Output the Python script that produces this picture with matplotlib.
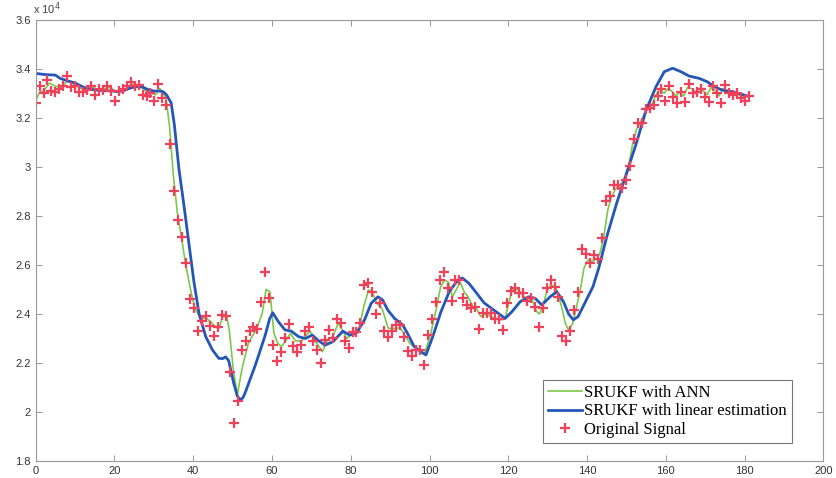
import numpy as np
import matplotlib
matplotlib.use('Agg')
import matplotlib.pyplot as plt

# Original signal (one sample per step, values in units of 1e4)
signal = [3.26, 3.33, 3.30, 3.355, 3.31, 3.305, 3.32, 3.33, 3.37, 3.325,
          3.33, 3.305, 3.305, 3.315, 3.33, 3.295, 3.32, 3.315, 3.33, 3.31,
          3.27, 3.31, 3.32, 3.33, 3.345, 3.33, 3.335, 3.295, 3.29, 3.30,
          3.27, 3.34, 3.28, 3.255, 3.095, 2.90, 2.785, 2.715, 2.61, 2.46,
          2.425, 2.33, 2.37, 2.39, 2.35, 2.31, 2.345, 2.395, 2.39, 2.165,
          1.955, 2.045, 2.255, 2.29, 2.33, 2.345, 2.34, 2.45, 2.57, 2.465,
          2.275, 2.21, 2.245, 2.30, 2.36, 2.27, 2.245, 2.275, 2.33, 2.345,
          2.29, 2.255, 2.20, 2.295, 2.335, 2.30, 2.38, 2.365, 2.29, 2.26,
          2.325, 2.325, 2.365, 2.52, 2.525, 2.49, 2.40, 2.445, 2.33, 2.305,
          2.33, 2.355, 2.355, 2.305, 2.25, 2.23, 2.255, 2.255, 2.19, 2.315,
          2.38, 2.45, 2.54, 2.57, 2.505, 2.455, 2.54, 2.54, 2.465, 2.435,
          2.425, 2.43, 2.34, 2.405, 2.405, 2.405, 2.38, 2.38, 2.335, 2.445,
          2.495, 2.505, 2.485, 2.485, 2.455, 2.465, 2.43, 2.345, 2.425, 2.505,
          2.54, 2.51, 2.47, 2.31, 2.29, 2.33, 2.415, 2.49, 2.665, 2.645,
          2.61, 2.64, 2.625, 2.71, 2.86, 2.88, 2.925, 2.925, 2.915, 2.945,
          3.005, 3.115, 3.18, 3.18, 3.235, 3.24, 3.255, 3.29, 3.32, 3.27,
          3.33, 3.285, 3.26, 3.305, 3.265, 3.34, 3.30, 3.305, 3.32, 3.285,
          3.265, 3.33, 3.30, 3.26, 3.335, 3.30, 3.295, 3.30, 3.28, 3.27,
          3.29]
sig_x = np.linspace(0, 181, len(signal))

# SRUKF with ANN (green)
ann_x = [0, 1, 2, 3.5, 5, 6.5, 8, 9, 10, 11.5, 13, 14.5, 16, 17.5, 19, 20.5,
         22, 23.5, 25, 26.5, 28, 29.5, 30.5, 31.5, 32.5, 33.2, 34, 35, 36, 37,
         38, 39.5, 40.5, 41.5, 42.5, 43.5, 44.5, 45.5, 46.5, 47.5, 48.5, 49.2,
         50.2, 51.2, 52.5, 54, 55, 56, 57.5, 58.5, 59.5, 60.5, 61.5, 62.4,
         63.5, 64.7, 66, 67.5, 68.5, 69.7, 71, 72.8, 74, 75.5, 76.8, 78, 79,
         80.5, 82, 83.3, 84.5, 85.5, 86.6, 88, 89.5, 91.5, 92.5, 93.7, 95,
         96.6, 98.7, 100.3, 101.7, 102.8, 103.8, 104.8, 105.8, 106.8, 107.8,
         108.8, 109.8, 111, 112, 113, 114.5, 115.5, 117, 118, 119.2, 120, 121,
         122.5, 123.5, 124.4, 126, 127.2, 127.9, 128.8, 129.7, 130.7, 132, 133,
         133.6, 134.5, 135.3, 136.3, 137.2, 138.3, 139.2, 140.2, 141.3, 142.5,
         143.3, 144.2, 145.2, 146, 147.2, 148.7, 149.5, 150.4, 151.5, 152.5,
         153.5, 155, 156.3, 157.5, 158.5, 159.5, 160.5, 161.5, 162.5, 163.5,
         164.5, 165.5, 166.5, 167.5, 168.5, 169.5, 170.5, 171.5, 172.5, 173.5,
         174.5, 175.5, 176.5, 177.5, 178.5, 179.5, 180.6]
ann_y = [3.27, 3.305, 3.31, 3.342, 3.33, 3.325, 3.35, 3.345, 3.335, 3.32,
         3.315, 3.325, 3.315, 3.32, 3.325, 3.305, 3.31, 3.325, 3.34, 3.33,
         3.31, 3.30, 3.295, 3.32, 3.30, 3.27, 3.165, 2.96, 2.81, 2.716,
         2.61, 2.486, 2.42, 2.395, 2.385, 2.38, 2.368, 2.35, 2.34, 2.39,
         2.395, 2.33, 2.17, 2.07, 2.185, 2.28, 2.31, 2.335, 2.40, 2.50,
         2.49, 2.32, 2.28, 2.267, 2.29, 2.32, 2.29, 2.29, 2.31, 2.33,
         2.29, 2.246, 2.29, 2.31, 2.362, 2.33, 2.30, 2.32, 2.33, 2.43,
         2.498, 2.49, 2.444, 2.42, 2.342, 2.34, 2.345, 2.314, 2.28, 2.26,
         2.233, 2.32, 2.42, 2.51, 2.539, 2.53, 2.47, 2.50, 2.53, 2.49,
         2.47, 2.43, 2.42, 2.39, 2.40, 2.39, 2.38, 2.376, 2.38, 2.44,
         2.498, 2.50, 2.48, 2.464, 2.46, 2.41, 2.40, 2.43, 2.49, 2.518,
         2.51, 2.46, 2.424, 2.36, 2.335, 2.36, 2.42, 2.50, 2.587, 2.62,
         2.615, 2.625, 2.65, 2.71, 2.82, 2.87, 2.91, 2.933, 2.94, 2.988,
         3.09, 3.151, 3.18, 3.233, 3.25, 3.294, 3.32, 3.30, 3.32, 3.31,
         3.29, 3.305, 3.29, 3.325, 3.32, 3.305, 3.32, 3.31, 3.295, 3.325,
         3.31, 3.29, 3.32, 3.31, 3.305, 3.30, 3.295, 3.285, 3.29]

# SRUKF with linear estimation (blue)
lin_x = [0, 2.5, 5, 6.2, 8, 10, 12.2, 14.7, 17, 19.6, 20.6, 22, 24, 25.5,
         27.2, 28.5, 30, 31.3, 32.3, 33.2, 34.4, 35.2, 36.4, 37.7, 38.9, 40.2,
         41.5, 43.2, 44.9, 46.5, 47.5, 48.2, 49, 50.3, 51.2, 52, 52.7, 53.3,
         55.8, 58.3, 59.4, 60.2, 61.6, 63.3, 64.9, 66.8, 68.5, 70.2, 71.9,
         73.5, 75.5, 78, 79.7, 81.4, 83.5, 85.2, 86.9, 88.1, 89.4, 91.1, 93.2,
         94.4, 96.1, 97.8, 99.1, 100.8, 102.9, 105, 107, 108.3, 110, 112,
         113.8, 116.3, 118, 119.2, 120.9, 123, 125.1, 126.8, 128.5, 130.6,
         132.3, 134, 135.3, 136.5, 137.7, 139.4, 141.5, 143, 145, 147.5, 150,
         152.5, 155, 157.5, 159.6, 161.7, 163.8, 165.9, 168.4, 170.5, 172.2,
         174.3, 176.8, 178.5, 180.6]
lin_y = [3.382, 3.377, 3.375, 3.362, 3.352, 3.343, 3.325, 3.315, 3.312, 3.31,
         3.308, 3.31, 3.322, 3.328, 3.326, 3.316, 3.31, 3.31, 3.308, 3.295,
         3.262, 3.175, 2.99, 2.838, 2.689, 2.53, 2.40, 2.307, 2.253, 2.219,
         2.218, 2.225, 2.21, 2.117, 2.065, 2.049, 2.06, 2.083, 2.192, 2.314,
         2.38, 2.405, 2.369, 2.335, 2.33, 2.307, 2.30, 2.314, 2.29, 2.273,
         2.287, 2.33, 2.314, 2.321, 2.376, 2.444, 2.47, 2.457, 2.416, 2.382,
         2.355, 2.321, 2.267, 2.246, 2.233, 2.307, 2.409, 2.491, 2.535, 2.547,
         2.525, 2.484, 2.446, 2.416, 2.396, 2.382, 2.409, 2.45, 2.47, 2.464,
         2.437, 2.47, 2.491, 2.45, 2.40, 2.376, 2.389, 2.444, 2.512, 2.59,
         2.716, 2.852, 2.974, 3.097, 3.233, 3.328, 3.389, 3.403, 3.389, 3.371,
         3.362, 3.348, 3.328, 3.314, 3.307, 3.30, 3.29]

x_ticks = [0, 20, 40, 60, 80, 100, 120, 140, 160, 180, 200]
y_ticks = [1.8, 2, 2.2, 2.4, 2.6, 2.8, 3, 3.2, 3.4, 3.6]
y_labels = ['1.8', '2', '2.2', '2.4', '2.6', '2.8', '3', '3.2', '3.4', '3.6']

plt.rcParams['font.family'] = ['Liberation Sans', 'DejaVu Sans']

fig = plt.figure(figsize=(8.36, 4.78), dpi=100)
ax = fig.add_axes([0.0426, 0.0356, 0.9424, 0.9226])

ax.plot(ann_x, ann_y, color='#7cc84a', lw=1.2, label='SRUKF with ANN')
ax.plot(lin_x, lin_y, color='#2456b8', lw=2.0, label='SRUKF with linear estimation')
ax.plot(sig_x, signal, '+', color='#f0405a', ms=6.5, mew=1.6, label='Original Signal')

ax.set_xlim(0, 200)
ax.set_ylim(1.8, 3.6)
ax.set_xticks(x_ticks)
ax.set_yticks(y_ticks)
ax.set_yticklabels(y_labels)
ax.tick_params(direction='in', top=True, right=True, length=4, width=0.6,
               color='#888888', labelsize=8, labelcolor='#333333')
for s in ax.spines.values():
    s.set_color('#999999')
    s.set_linewidth(0.8)

# exponent label at the top left of the axes
fig.text(0.040, 1 - 14 / 478, 'x 10$^{4}$', fontsize=8, color='#444444',
         va='baseline', ha='left')

leg = ax.legend(loc='lower right', bbox_to_anchor=(0.96, 0.041),
                prop={'family': 'Liberation Serif', 'size': 12},
                fancybox=False, frameon=True, borderpad=0.3,
                handlelength=2.0, handletextpad=0.15, labelspacing=0.15,
                borderaxespad=0)
leg.get_frame().set_edgecolor('#555555')
leg.get_frame().set_linewidth(0.8)

plt.savefig('out.png', dpi=100)
